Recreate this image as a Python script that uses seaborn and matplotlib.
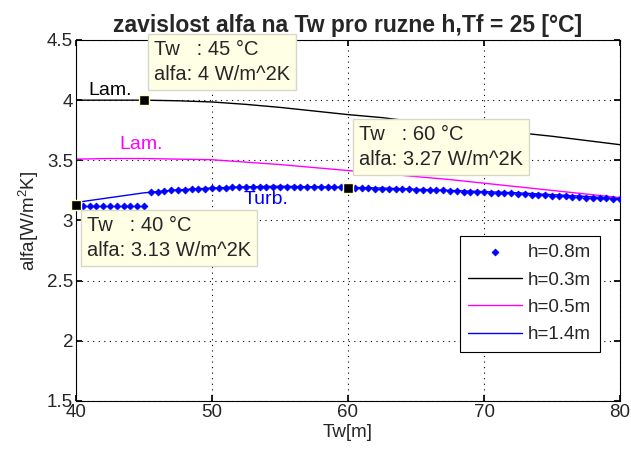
import numpy as np
import pandas as pd
import matplotlib
matplotlib.use("Agg")
import matplotlib.pyplot as plt
import seaborn as sns

# ---------------- data ----------------
tw_line = [40, 42.5, 45, 47.5, 50, 52.5, 55, 57.5, 60, 62.5, 65, 67.5, 70, 72.5, 75, 77.5, 80]
alfa_h03 = [4.00, 4.00, 4.00, 3.995, 3.985, 3.965, 3.94, 3.91, 3.88, 3.855, 3.82, 3.79, 3.76, 3.73, 3.70, 3.665, 3.63]
alfa_h05 = [3.51, 3.515, 3.515, 3.51, 3.505, 3.485, 3.465, 3.44, 3.415, 3.39, 3.365, 3.34, 3.31, 3.28, 3.25, 3.22, 3.19]
alfa_h14 = [3.15, 3.19, 3.23, 3.255, 3.27, 3.28, 3.285, 3.28, 3.275, 3.27, 3.26, 3.25, 3.24, 3.23, 3.215, 3.20, 3.18]

tw_pts = [40.0, 40.5, 41.0, 41.5, 42.0, 42.5, 43.0, 43.5, 44.0, 44.5, 45.0,
          45.5, 46.0, 46.5, 47.0, 47.5, 48.0, 48.5, 49.0, 49.5, 50.0,
          50.5, 51.0, 51.5, 52.0, 52.5, 53.0,
          53.5, 54.0, 54.5, 55.0, 55.5, 56.0, 56.5, 57.0, 57.5, 58.0,
          58.5, 59.0, 59.5, 60.0,
          60.5, 61.0, 61.5, 62.0, 62.5, 63.0, 63.5, 64.0, 64.5, 65.0,
          65.5, 66.0, 66.5, 67.0, 67.5, 68.0, 68.5, 69.0, 69.5, 70.0,
          70.5, 71.0, 71.5, 72.0, 72.5, 73.0, 73.5, 74.0, 74.5, 75.0,
          75.5, 76.0, 76.5, 77.0, 77.5, 78.0, 78.5, 79.0, 79.5, 80.0]
alfa_h08 = [3.13, 3.12, 3.12, 3.12, 3.12, 3.12, 3.12, 3.12, 3.12, 3.12, 3.12,
            3.235, 3.24, 3.245, 3.25, 3.25, 3.255, 3.26, 3.26, 3.265, 3.27,
            3.27, 3.27, 3.275, 3.275, 3.275, 3.28,
            3.28, 3.28, 3.28, 3.28, 3.28, 3.28, 3.28, 3.28, 3.28, 3.28,
            3.28, 3.275, 3.275, 3.27,
            3.27, 3.27, 3.27, 3.265, 3.265, 3.265, 3.26, 3.26, 3.26, 3.255,
            3.255, 3.25, 3.25, 3.25, 3.245, 3.245, 3.24, 3.24, 3.24, 3.235,
            3.23, 3.23, 3.225, 3.225, 3.22, 3.22, 3.215, 3.21, 3.21, 3.205,
            3.20, 3.20, 3.195, 3.195, 3.19, 3.19, 3.185, 3.185, 3.18, 3.18]

tip_tw = [45, 60, 40]
tip_alfa = [4.0, 3.27, 3.13]
tip_text = ["Tw   : 45 °C\nalfa: 4 W/m^2K",
            "Tw   : 60 °C\nalfa: 3.27 W/m^2K",
            "Tw   : 40 °C\nalfa: 3.13 W/m^2K"]

title = "zavislost alfa na Tw pro ruzne h,Tf = 25 [°C]"
xlabel = "Tw[m]"
ylabel = "alfa[W/m$^2$K]"
legend_labels = ["h=0.8m", "h=0.3m", "h=0.5m", "h=1.4m"]
x_ticks = [40, 50, 60, 70, 80]
y_ticks = [1.5, 2, 2.5, 3, 3.5, 4, 4.5]

# ---------------- style ----------------
sns.set_theme(style="white")
plt.rcParams['font.family'] = ['Liberation Sans', 'DejaVu Sans']
plt.rcParams['mathtext.fontset'] = 'custom'
plt.rcParams['mathtext.rm'] = 'Liberation Sans'
plt.rcParams['mathtext.it'] = 'Liberation Sans'

fig = plt.figure(figsize=(6.31, 4.53), dpi=100)
ax = fig.add_axes([0.1204, 0.1148, 0.8622, 0.7969])

df_lines = pd.DataFrame({
    "Tw": tw_line * 3,
    "alfa": alfa_h03 + alfa_h05 + alfa_h14,
    "h": ["h=0.3m"] * len(tw_line) + ["h=0.5m"] * len(tw_line) + ["h=1.4m"] * len(tw_line),
})
df_pts = pd.DataFrame({"Tw": tw_pts, "alfa": alfa_h08})

sns.scatterplot(data=df_pts, x="Tw", y="alfa", ax=ax, marker="D", s=12,
                color="#0000FF", edgecolor="#0000FF", linewidth=0.6, label="h=0.8m", zorder=3)
sns.lineplot(data=df_lines, x="Tw", y="alfa", hue="h", ax=ax,
             palette={"h=0.3m": "#000000", "h=0.5m": "#FF00FF", "h=1.4m": "#0000FF"},
             linewidth=1.0, zorder=2)

ax.set_xlim(40, 80)
ax.set_ylim(1.5, 4.5)
ax.set_xticks(x_ticks)
ax.set_yticks(y_ticks)
ax.set_yticklabels([f"{v:g}" for v in y_ticks])
ax.grid(True, color="black", linestyle=(0, (1, 4)), linewidth=0.8)
for s in ax.spines.values():
    s.set_color("black")
    s.set_linewidth(0.8)
ax.tick_params(direction="in", length=4, color="black", labelsize=13.5, pad=2,
               top=True, right=True, bottom=True, left=True)
ax.set_xlabel(xlabel, fontsize=13.5, labelpad=2)
ax.set_ylabel(ylabel, fontsize=13.5, labelpad=4)
ax.set_title(title, fontsize=16.5, fontweight="bold", pad=6)

# text labels
ax.text(40.9, 4.01, "Lam.", color="black", fontsize=14, ha="left", va="bottom")
ax.text(43.2, 3.56, "Lam.", color="#FF00FF", fontsize=14, ha="left", va="bottom")
ax.text(52.3, 3.10, "Turb.", color="#0000FF", fontsize=14, ha="left", va="bottom")

# data tips
ax.scatter(tip_tw, tip_alfa, marker="s", s=60, color="black",
           edgecolor="#FFFFC0", linewidth=1.0, zorder=6, clip_on=False)
tip_pos = [(45.72, 4.50), (60.8, 3.79), (40.8, 3.035)]
for (x, y), t in zip(tip_pos, tip_text):
    ax.text(x, y, t, fontsize=14.5, ha="left", va="top", zorder=7, linespacing=1.4,
            clip_on=False,
            bbox=dict(boxstyle="square,pad=0.3", facecolor="#FFFFE6", edgecolor="#D8D8C8", linewidth=1))

# legend
handles, labels = ax.get_legend_handles_labels()
order = [labels.index(l) for l in legend_labels]
leg = ax.legend([handles[i] for i in order], [labels[i] for i in order],
                loc="lower right", bbox_to_anchor=(0.98, 0.11), fontsize=13.5,
                frameon=True, fancybox=False, framealpha=1, edgecolor="black",
                handlelength=2.9, handletextpad=0.3, borderpad=0.45, labelspacing=0.55,
                markerfirst=True)
leg.get_frame().set_linewidth(0.8)

fig.savefig("out.png", dpi=100)
